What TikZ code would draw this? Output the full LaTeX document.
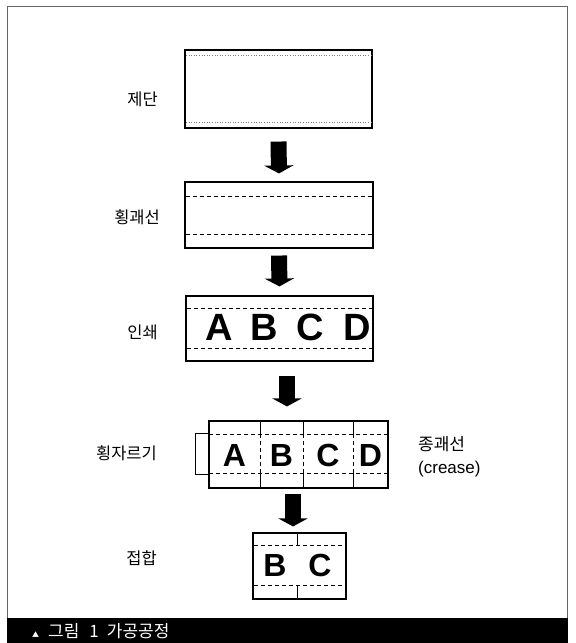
\documentclass[tikz,border=0pt]{standalone}
\usepackage{fontspec}
\setmainfont{Liberation Sans}
\newfontfamily\kr{Noto Sans CJK KR}
\usetikzlibrary{arrows.meta}

\begin{document}
\begin{tikzpicture}[x=1pt,y=-1pt,
    box/.style={draw, line width=1.1pt, inner sep=0pt},
    crease/.style={dash pattern=on 4pt off 3pt, line width=.8pt},
    fold/.style={line width=.8pt},
    stage/.style={anchor=east, inner sep=0pt, font=\kr\fontsize{16.5}{20}\selectfont},
    letterbig/.style={inner sep=0pt, font=\bfseries\fontsize{38}{38}\selectfont},
    lettersmall/.style={inner sep=0pt, font=\bfseries\fontsize{32}{32}\selectfont},
    fat/.style={line width=16pt, -{Triangle[length=8pt,width=29pt]}}]
    \useasboundingbox (0,0) rectangle (576,643);
    %frame and caption
    \draw[gray!80!black, line width=.8pt] (7.5,618) -- (7.5,6) -- (567.5,6) -- (567.5,618);
    \fill (7,618) rectangle (568,643);
    \node[anchor=west, text=white, inner sep=0pt, font=\kr\fontsize{17}{17}\selectfont] (cap) at (32,631)
        {{\fontsize{7}{7}\selectfont ▲}\hspace{9pt}그림\hspace{10pt}1\hspace{8pt}가공공정};
    %boxes
    \node[box, minimum width=187, minimum height=78] (cut) at (278.5,89) {};
    \node[box, minimum width=188, minimum height=66] (scoring) at (279,215) {};
    \node[box, minimum width=187, minimum height=65] (print) at (279.5,328.5) {};
    \node[box, minimum width=179, minimum height=67] (slit) at (298.5,454.5) {};
    \node[box, minimum width=93, minimum height=66] (glue) at (299.5,566) {};
    %labels
    \node[stage] (lcut) at (158,99) {제단};
    \node[stage] (lscoring) at (160,217) {횡괘선};
    \node[stage] (lprint) at (158,332) {인쇄};
    \node[stage] (lslit) at (157,453) {횡자르기};
    \node[stage] (lglue) at (157,558) {접합};
    \node[anchor=west, align=left, inner sep=0pt, font=\fontsize{17}{23}\selectfont] (lcrease) at (418,457) {{\kr 종괘선}\\(crease)};
    %inside the boxes
    \draw[gray, dotted, line width=.6pt] (186,55) -- (371,55) (186,122) -- (371,122);
    \draw[crease] (186,196) -- (372,196) (186,234) -- (372,234);
    \draw[crease] (187,308) -- (372,308) (187,348) -- (372,348);
    \foreach \l/\x in {A/219.5,B/264,C/310,D/357}
        \node[letterbig] (p\l) at (\x,327.5) {\l};
    \draw[fold] (209,433) -- (195,433) -- (195,474) -- (209,474);
    \draw[crease] (209,434) -- (388,434) (209,473) -- (388,473);
    \foreach \x in {260,303,353}{
        \draw[fold] (\x,421) -- (\x,434) (\x,473) -- (\x,488);
        \draw[crease] (\x,434) -- (\x,473);
    }
    \foreach \l/\x in {A/234.5,B/281.5,C/328,D/370.5}
        \node[lettersmall] (s\l) at (\x,455) {\l};
    \draw[crease] (254,545) -- (345,545) (254,585) -- (345,585);
    \draw[fold] (297,533) -- (297,545) (297,585) -- (297,599);
    \node[lettersmall] (gB) at (275,565) {B};
    \node[lettersmall] (gC) at (320,565) {C};
    %arrows
    \draw[fat] ([yshift=-13]cut.south) -- ([yshift=8]scoring.north);
    \draw[fat] ([yshift=-7]scoring.south) -- ([yshift=9]print.north);
    \draw[fat] ([xshift=7.5,yshift=-14]print.south) -- ([xshift=-11.5,yshift=14]slit.north);
    \draw[fat] ([xshift=-5.5,yshift=-5]slit.south) -- ([xshift=-6.5,yshift=6]glue.north);
\end{tikzpicture}
\end{document}
